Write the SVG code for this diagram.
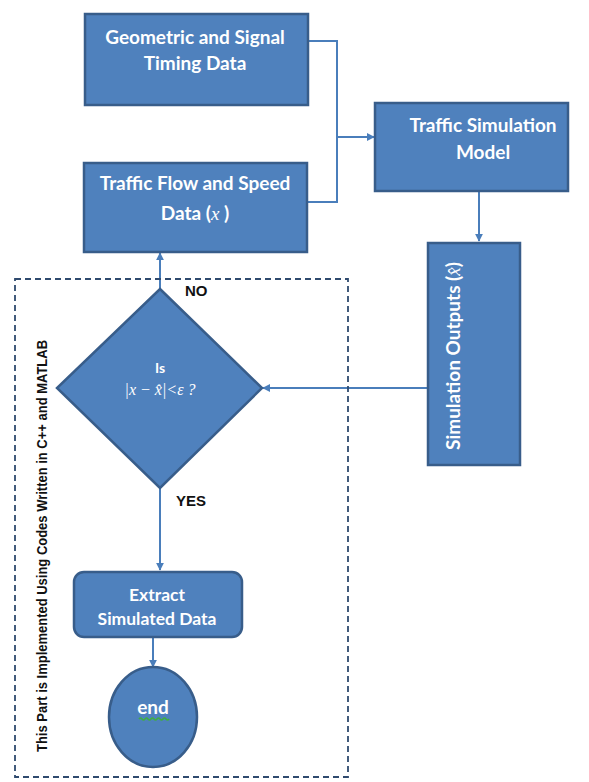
<svg xmlns="http://www.w3.org/2000/svg" width="589" height="782" viewBox="0 0 589 782">
<defs>
<marker id="arr" viewBox="0 0 10 10" refX="9" refY="5" markerWidth="4" markerHeight="4" orient="auto-start-reverse"><path d="M0,0 L10,5 L0,10 z" fill="#4A7EBB"/></marker>
<style>
.box{fill:#4F81BD;stroke:#385D8A;stroke-width:2.5}
.t{font-family:Lato,"Open Sans",sans-serif;font-weight:bold;font-size:19px;fill:#fff;text-anchor:middle}
.c{fill:none;stroke:#4A7EBB;stroke-width:2}
.lbl{font-family:"Liberation Sans",Arial,sans-serif;font-weight:bold;font-size:14px;fill:#111}
.m{font-family:"Liberation Serif","DejaVu Serif",serif;font-style:italic;font-size:16px;fill:#fff;text-anchor:middle}
</style>
</defs>
<rect width="589" height="782" fill="#fff"/>
<g id="connectors">
<polyline class="c" points="308,41 337,41 337,202 308,202"/>
<line class="c" x1="337" y1="137" x2="374" y2="137" marker-end="url(#arr)"/>
<line class="c" x1="479" y1="191" x2="479" y2="241" marker-end="url(#arr)"/>
<line class="c" x1="428" y1="388" x2="263" y2="388" marker-end="url(#arr)"/>
<line class="c" x1="160" y1="289" x2="160" y2="253" marker-end="url(#arr)"/>
<line class="c" x1="160" y1="488" x2="160" y2="570" marker-end="url(#arr)"/>
<line class="c" x1="153" y1="637" x2="153" y2="667" marker-end="url(#arr)"/>
</g>
<g id="boundary">
<rect x="15" y="279" width="333" height="498" fill="none" stroke="#2F4A6E" stroke-width="1.8" stroke-dasharray="6,4"/>
<text class="lbl" style="font-size:15px" transform="translate(47,546) rotate(-90)" text-anchor="middle" textLength="412" lengthAdjust="spacingAndGlyphs">This Part is Implemented  Using Codes  Written in C++ and MATLAB</text>
</g>
<g id="geometric">
<rect class="box" x="85" y="14" width="223" height="91"/>
<text class="t" x="195" y="44">Geometric and Signal</text>
<text class="t" x="195" y="70">Timing Data</text>
</g>
<g id="flow">
<rect class="box" x="84" y="163" width="223" height="89"/>
<text class="t" x="195" y="190">Traffic Flow and Speed</text>
<text class="t" x="195" y="220">Data (<tspan font-family="Liberation Serif,serif" font-style="italic" font-weight="normal">x</tspan> )</text>
</g>
<g id="model">
<rect class="box" x="375" y="103" width="193" height="88"/>
<text class="t" x="483" y="132">Traffic Simulation</text>
<text class="t" x="483" y="159">Model</text>
</g>
<g id="outputs">
<rect class="box" x="428" y="243" width="92" height="222"/>
<text class="t" transform="translate(460,356) rotate(-90)">Simulation Outputs (<tspan font-family="Liberation Serif,serif" font-style="italic" font-weight="normal">x̂</tspan>)</text>
</g>
<g id="decision">
<polygon class="box" points="160,289 262,388 160,488 57,388"/>
<text class="t" x="160" y="373" style="font-size:14px">Is</text>
<text class="m" x="160" y="395">|x − x̂|&lt;ε ?</text>
<text class="lbl" x="185" y="296" style="font-size:15px">NO</text>
<text class="lbl" x="176" y="506" style="font-size:15px">YES</text>
</g>
<g id="extract">
<rect class="box" x="74" y="572" width="168" height="65" rx="10"/>
<text class="t" x="157" y="601" style="font-size:17.5px">Extract</text>
<text class="t" x="157" y="625" style="font-size:17.5px">Simulated Data</text>
</g>
<g id="end">
<ellipse class="box" cx="153" cy="717" rx="44" ry="50"/>
<text class="t" x="153" y="714">end</text>
<path d="M139,719 q1.5,-2 3,0 t3,0 t3,0 t3,0 t3,0 t3,0 t3,0 t3,0 t3,0 t3,0" fill="none" stroke="#3FAF3F" stroke-width="1.5"/>
</g>
</svg>
